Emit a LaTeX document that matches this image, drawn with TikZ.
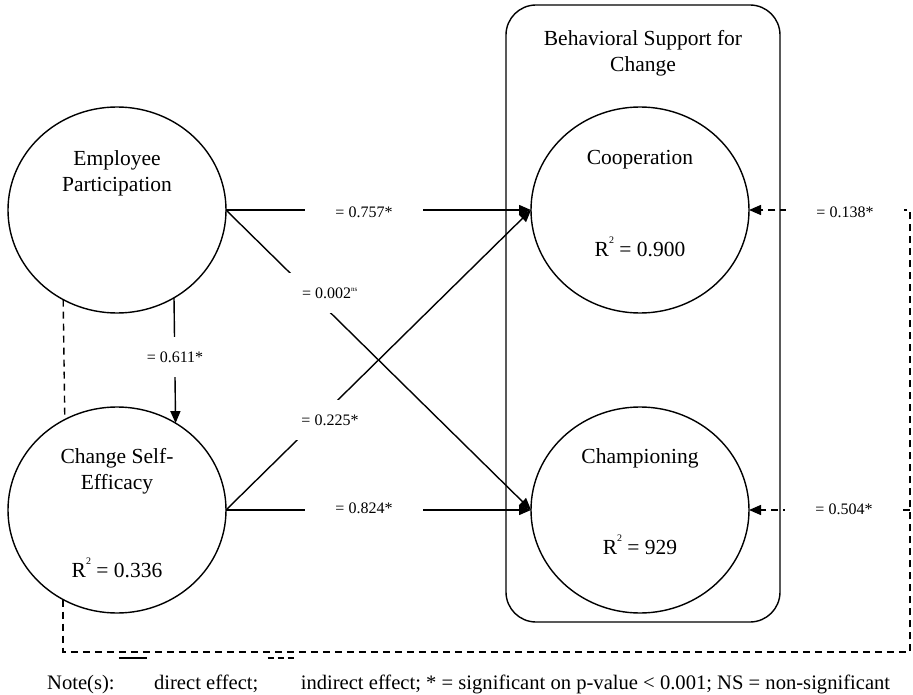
\documentclass[tikz,border=0pt]{standalone}
\usepackage{fontspec}
\setmainfont{Liberation Serif}
\usetikzlibrary{arrows.meta,shapes.geometric,calc}
\newcommand{\sqtwo}{\raisebox{0.6em}{\fontsize{10}{10}\selectfont 2}}
\begin{document}
\begin{tikzpicture}[x=1pt,y=-1pt,
  lat/.style={ellipse, draw, line width=1.4pt, fill=white, minimum width=218pt, minimum height=206pt, inner sep=0pt, outer sep=0pt},
  big/.style={font=\fontsize{21.5}{26}\selectfont, align=center, inner sep=0pt},
  lbl/.style={fill=white, minimum width=118pt, minimum height=40pt, inner sep=0pt, font=\fontsize{16}{19}\selectfont},
  conn/.style={line width=1.4pt, -{Triangle[length=12pt,width=10pt]}},
  ind/.style={conn, dash pattern=on 7pt off 5pt},
  note/.style={font=\fontsize{20.6}{24}\selectfont, inner sep=0pt, anchor=base west},
]
\useasboundingbox (0,0) rectangle (913,695);
% group box
\draw[line width=1.4pt, rounded corners=30pt] (506,5) rectangle (780,622);
\node[big] (boxT) at (643,53) {Behavioral Support for\\Change};
% latent variables
\node[lat] (EP) at (117,210) {};
\node[lat] (CSE) at (117,510) {};
\node[lat] (Coop) at (640,210) {};
\node[lat] (Champ) at (640,510) {};
\node[big] (epT) at (117,173) {Employee\\Participation};
\node[big] (csT) at (117,471) {Change Self-\\Efficacy};
\node[big] (csR) at (117,568) {R\sqtwo\ = 0.336};
\node[big] (coT) at (640,160) {Cooperation};
\node[big] (coR) at (640,247) {R\sqtwo\ = 0.900};
\node[big] (chT) at (640,458) {Championing};
\node[big] (chR) at (640,545) {R\sqtwo\ = 929};
% direct paths
\draw[conn] (EP.east) -- (Coop.west);
\draw[conn] (EP.east) -- (Champ.west);
\draw[conn] (CSE.east) -- (Coop.west);
\draw[conn] (CSE.east) -- (Champ.west);
\draw[conn] (EP.303.6) -- (CSE.56.4);
% indirect paths
\coordinate (br) at (910,652);
\coordinate (tr) at (910,210);
\coordinate (mr) at (910,510);
\draw[ind,-] (EP.239.5) -- (CSE.120.5);
\draw[ind] (CSE.239.5) |- (br) -- (tr) -- (Coop.east);
\draw[ind] (mr) -- (Champ.east);
% labels
\node[lbl] (l1) at (364,212) {= 0.757*};
\node[lbl] (l2) at (330,293) {= 0.002\textsuperscript{\fontsize{7}{7}\selectfont ns}};
\node[lbl] (l3) at (175,357) {= 0.611*};
\node[lbl] (l4) at (330,420) {= 0.225*};
\node[lbl] (l5) at (364,508) {= 0.824*};
\node[lbl] (l6) at (845,212) {= 0.138*};
\node[lbl] (l7) at (844,509) {= 0.504*};
% note
\node[note] (n1) at (47,689) {Note(s):};
\coordinate (s1a) at ($(n1.base east)+(4,-31)$);
\coordinate (s1b) at ($(s1a)+(28,0)$);
\draw[line width=1.4pt] (s1a) -- (s1b);
\node[note] (n2) at ($(n1.base east)+(39,0)$) {direct effect;};
\coordinate (s2a) at ($(n2.base east)+(9,-31)$);
\coordinate (s2b) at ($(s2a)+(26,0)$);
\draw[line width=1.4pt, dash pattern=on 6pt off 4pt] (s2a) -- (s2b);
\node[note] (n3) at ($(n2.base east)+(42,0)$) {indirect effect; * = significant on p-value < 0.001; NS = non-significant};
\end{tikzpicture}
\end{document}
